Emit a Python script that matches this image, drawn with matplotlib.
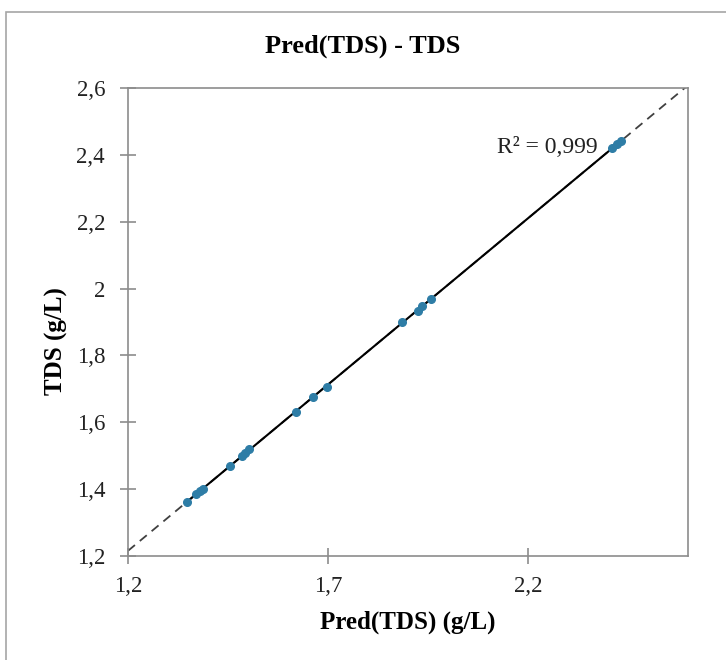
import numpy as np
import matplotlib
matplotlib.use("Agg")
import matplotlib.pyplot as plt
from matplotlib.ticker import FuncFormatter, MultipleLocator
from matplotlib.patches import Rectangle

pred_tds = [1.347, 1.370, 1.380, 1.387, 1.455, 1.484, 1.492, 1.503,
            1.620, 1.663, 1.697, 1.884, 1.926, 1.936, 1.957,
            2.409, 2.422, 2.432]
tds = [1.362, 1.385, 1.395, 1.400, 1.469, 1.499, 1.508, 1.520,
       1.630, 1.677, 1.706, 1.899, 1.934, 1.947, 1.969,
       2.420, 2.432, 2.440]
x_ticks = [1.2, 1.7, 2.2]
r2_label = "R² = 0,999"

plt.rcParams['font.family'] = ['Liberation Serif', 'DejaVu Serif']

W, H = 726, 660
fig = plt.figure(figsize=(W / 100, H / 100), dpi=100)
ax = fig.add_axes([128 / W, (H - 556) / H, 560 / W, 468 / H])

# outer chart frame (Excel style)
fig.patches.append(Rectangle((6 / W, -0.5), 2, (H - 12) / H + 0.5,
                             transform=fig.transFigure, fill=False,
                             edgecolor='#a6a6a6', lw=1.2, clip_on=False))

x = np.array(pred_tds)
y = np.array(tds)
slope, intercept = np.polyfit(x, y, 1)

# trendline: dashed forecast over full range, solid over the data
xx = np.array([1.2, 2.6])
ax.plot(xx, slope * xx + intercept, color='#404040', lw=1.3, ls=(0, (5, 3.5)), zorder=2)
xs = np.array([x.min(), x.max()])
ax.plot(xs, slope * xs + intercept, color='black', lw=1.5, zorder=3)

ax.plot(x, y, 'o', color='#2E7DA6', markersize=5.5, zorder=4)

ax.text(2.375, 2.405, r2_label, fontsize=17, ha='right', va='baseline', color='#222222')

ax.set_xlim(1.2, 2.6)
ax.set_ylim(1.2, 2.6)
ax.set_xticks(x_ticks)
ax.yaxis.set_major_locator(MultipleLocator(0.2))

fmt = FuncFormatter(lambda v, p: ('%g' % round(v, 3)).replace('.', ','))
ax.xaxis.set_major_formatter(fmt)
ax.yaxis.set_major_formatter(fmt)

for s in ax.spines.values():
    s.set_color('#8c8c8c')
    s.set_linewidth(1.2)
ax.tick_params(axis='both', direction='inout', length=11, width=1.2,
               color='#8c8c8c', labelsize=16.5, labelcolor='#222222')
ax.tick_params(axis='x', pad=9)
ax.tick_params(axis='y', pad=11)

fig.text(0.5, 1 - 53 / H, "Pred(TDS) - TDS", fontsize=19, fontweight='bold',
         ha='center', va='baseline')
ax.set_xlabel("Pred(TDS) (g/L)", fontsize=18, fontweight='bold', va='top')
ax.xaxis.set_label_coords(0.5, -0.117)
ax.set_ylabel("TDS (g/L)", fontsize=18, fontweight='bold')
ax.yaxis.set_label_coords(-0.107, 0.46)

fig.savefig("out.png", dpi=100)
